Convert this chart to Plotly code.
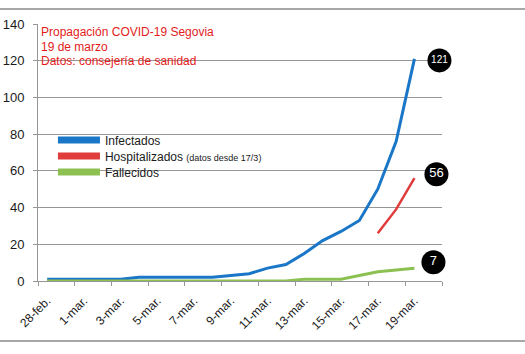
import plotly.graph_objects as go

# ---- data ----
dates = ["28-feb.", "29-feb."] + [f"{d}-mar." for d in range(1, 21)]
infectados = [1, 1, 1, 1, 1, 2, 2, 2, 2, 2, 3, 4, 7, 9, 15, 22, 27, 33, 50, 76, 121]
hospitalizados = [None] * 18 + [26, 39, 56]
fallecidos = [0] * 14 + [1, 1, 1, 3, 5, 6, 7]

series_names = ["Infectados",
                "Hospitalizados <span style='font-size:9px'>(datos desde 17/3)</span>",
                "Fallecidos"]
series_values = [infectados, hospitalizados, fallecidos]
colors = ["#1a76c6", "#e03c3c", "#8cc152"]
line_widths = [3, 2.5, 3]
# bubble label style: (x pixel offset, y pixel offset downward, font size)
bubble_style = [(25, 1.5, 10), (22, -4, 13), (19, -6, 13)]
legend_tops = [0.605, 0.543, 0.481]

title_lines = ["Propagación COVID-19 Segovia", "19 de marzo", "Datos: consejería de sanidad"]

font = "Liberation Sans, Arial, sans-serif"
grid = "#969696"

W, H = 525, 354
M = dict(l=38, r=83, t=24, b=73)
YMAX = 140
px_per_cat = (W - M["l"] - M["r"]) / len(dates)
px_per_unit = (H - M["t"] - M["b"]) / YMAX

fig = go.Figure()

legend_layouts = {}
for k, (name, vals, col, lw) in enumerate(zip(series_names, series_values, colors, line_widths)):
    lg = "legend" if k == 0 else f"legend{k + 1}"
    x = list(range(len(vals)))
    fig.add_trace(go.Scatter(x=x, y=vals, mode="lines", line=dict(color=col, width=lw),
                             showlegend=False, hoverinfo="skip", connectgaps=False))
    fig.add_trace(go.Scatter(x=[None], y=[None], mode="lines", name=name, legend=lg,
                             line=dict(color=col, width=7)))
    legend_layouts[lg] = dict(x=0.037, y=legend_tops[k], xanchor="left", yanchor="top",
                              bgcolor="rgba(0,0,0,0)", itemwidth=42,
                              font=dict(size=12, color="#1a1a1a", family=font))

# end-of-line value bubbles
bx, by, bt, bs = [], [], [], []
for vals, (dx, dy, fs) in zip(series_values, bubble_style):
    last_i = max(i for i, v in enumerate(vals) if v is not None)
    last_v = vals[last_i]
    bx.append(last_i + dx / px_per_cat)
    by.append(last_v - dy / px_per_unit)
    bt.append(str(last_v))
    bs.append(fs)
fig.add_trace(go.Scatter(x=bx, y=by, text=bt, mode="markers+text", textposition="middle center",
                         marker=dict(size=24, color="black"), cliponaxis=False,
                         textfont=dict(color="white", size=bs, family=font),
                         showlegend=False, hoverinfo="skip"))

shapes = []
# chart-area border lines (top and bottom)
for yp in (1.0584, -0.2335):
    shapes.append(dict(type="line", xref="paper", yref="paper", x0=-0.1, x1=1.21, y0=yp, y1=yp,
                       line=dict(color="#8a8a8a", width=1.5)))

annotations = []
for j, line in enumerate(title_lines):
    annotations.append(dict(xref="paper", yref="paper", x=0.0, y=1.0, xanchor="left", yanchor="top",
                            xshift=1, yshift=1 - 14.5 * j, align="left", showarrow=False,
                            text=line, font=dict(color="#e31b1b", size=12, family=font)))

fig.update_layout(
    width=W, height=H,
    margin=M,
    paper_bgcolor="white", plot_bgcolor="white",
    font=dict(family=font, size=12, color="#1a1a1a"),
    shapes=shapes, annotations=annotations,
    **legend_layouts,
    xaxis=dict(range=[-0.5, len(dates) - 0.5], tickmode="array",
               tickvals=list(range(0, len(dates), 2))[:11], ticktext=dates[0::2][:11],
               ticks="", tickangle=-45, showgrid=False, zeroline=False, automargin=False,
               showline=True, linecolor=grid, linewidth=1, ticklabelstandoff=7,
               tickfont=dict(size=12, color="#1a1a1a"),
               minor=dict(tickmode="linear", tick0=-0.5, dtick=2, ticks="outside",
                          ticklen=4, tickcolor=grid, tickwidth=1, showgrid=False)),
    yaxis=dict(range=[0, YMAX], tickmode="linear", tick0=0, dtick=20, automargin=False,
               showgrid=True, gridcolor=grid, gridwidth=1, zeroline=False,
               showline=True, linecolor=grid, linewidth=1,
               ticks="outside", ticklen=4, tickcolor=grid,
               ticklabelstandoff=6,
               tickfont=dict(size=13, color="#1a1a1a")),
)

fig.write_html("out.html")
